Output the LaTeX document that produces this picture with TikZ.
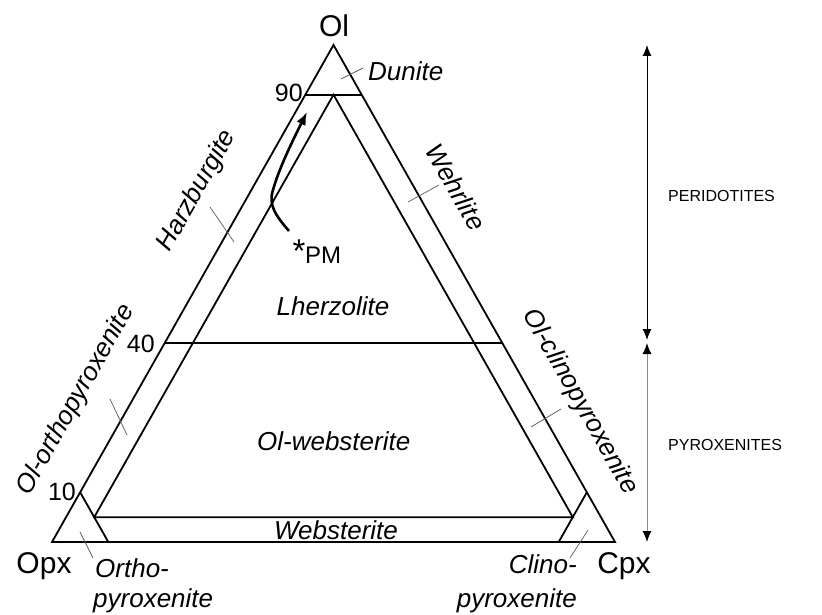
\documentclass[tikz,border=0pt]{standalone}
\usepackage{fontspec}
\setmainfont{Liberation Sans}
\usetikzlibrary{arrows.meta}
\begin{document}
\begin{tikzpicture}[x=1pt,y=-1pt,
  edge/.style={line width=1.8pt, line join=miter},
  tickline/.style={line width=0.7pt, black!65},
  lbl/.style={font=\fontsize{26}{26}\selectfont\itshape, inner sep=0pt},
  big/.style={font=\fontsize{30}{30}\selectfont, inner sep=0pt},
  num/.style={font=\fontsize{25}{25}\selectfont, inner sep=0pt},
  grp/.style={font=\fontsize{16}{16}\selectfont, inner sep=0pt, anchor=west},
  rangearrow/.style={line width=1pt, {Latex[length=11pt,width=9pt,color=black]}-{Latex[length=11pt,width=9pt,color=black]}},
  pmarrow/.style={line width=2.6pt, -{Latex[length=13pt,width=10pt]}}
]
\useasboundingbox (0,0) rectangle (822,615);
% vertices
\coordinate (opx) at (52,542);
\coordinate (cpx) at (615,542);
\coordinate (ol) at (333.5,45);
% outer triangle
\draw[edge] (opx) -- (cpx) -- (ol) -- cycle;
% Ol = 90 and Ol = 40
\draw[edge] (barycentric cs:opx=0.1,cpx=0,ol=0.9) -- (barycentric cs:opx=0,cpx=0.1,ol=0.9);
\draw[edge] (barycentric cs:opx=0.6,cpx=0,ol=0.4) -- (barycentric cs:opx=0,cpx=0.6,ol=0.4);
% inner triangle (5 %)
\draw[edge] (barycentric cs:opx=0.05,cpx=0.05,ol=0.9) -- (barycentric cs:opx=0.9,cpx=0.05,ol=0.05)
  -- (barycentric cs:opx=0.05,cpx=0.9,ol=0.05) -- cycle;
% corner lines (90 %)
\draw[edge] (barycentric cs:opx=0.9,cpx=0,ol=0.1) -- (barycentric cs:opx=0.9,cpx=0.1,ol=0);
\draw[edge] (barycentric cs:opx=0,cpx=0.9,ol=0.1) -- (barycentric cs:opx=0.1,cpx=0.9,ol=0);
% ticks
\draw[tickline] (341,79) -- (363,68);
\draw[tickline] (210,207) -- (234,242);
\draw[tickline] (408,202) -- (439,185);
\draw[tickline] (110,399) -- (127,435);
\draw[tickline] (531,427) -- (561,409);
\draw[tickline] (80,532) -- (93,558);
\draw[tickline] (588,530) -- (570,558);
% PM trend
\coordinate (pmstart) at (289,231);
\coordinate (pmend) at (307,112);
\draw[pmarrow] (pmstart) .. controls (276,216) and (268,205) .. (273,190) .. controls (279,168) and (294,138) .. (pmend);
\node[font=\fontsize{33}{33}\selectfont, inner sep=0pt, anchor=base] (star) at (299,262.5) {*};
\node[font=\fontsize{24}{24}\selectfont, inner sep=0pt, anchor=base west] (pm) at (305,263) {PM};
% vertex labels
\node[big] (lol) at (334,25.5) {Ol};
\node[big, anchor=base] (lopx) at (44,573) {Opx};
\node[big, anchor=base] (lcpx) at (624,573) {Cpx};
% numbers
\node[num, anchor=east] (n90) at (303,93) {90};
\node[num, anchor=east] (n40) at (155,344) {40};
\node[num] (n10) at (62,491.7) {10};
% field labels
\node[lbl, anchor=west] (dun) at (368,71.7) {Dunite};
\node[lbl, rotate=60.5] (harz) at (197,191) {Harzburgite};
\node[lbl, rotate=-60.5] (wehr) at (456,187) {Wehrlite};
\node[lbl] (lherz) at (333,306) {Lherzolite};
\node[lbl, rotate=60.5] (olopx) at (76,400) {Ol-orthopyroxenite};
\node[lbl, rotate=-60.5] (olcpx) at (580,402) {Ol-clinopyroxenite};
\node[lbl] (olweb) at (333.7,441.7) {Ol-websterite};
\node[lbl] (web) at (336,530) {Websterite};
\node[lbl, anchor=base west] (ortho1) at (95,577) {Ortho-};
\node[lbl, anchor=base west] (ortho2) at (93,607) {pyroxenite};
\node[lbl, anchor=base east] (clino1) at (577,573) {Clino-};
\node[lbl, anchor=base east] (clino2) at (577,607) {pyroxenite};
% right-hand ranges
\coordinate (rtop) at (647,45);
\coordinate (rmid1) at (647,340);
\coordinate (rmid2) at (647,343);
\coordinate (rbot) at (647,542);
\draw[rangearrow] (rtop) -- (rmid1);
\draw[rangearrow, draw=black!45] (rmid2) -- (rbot);
\node[grp] (peri) at (668,196) {PERIDOTITES};
\node[grp] (pyro) at (668,445) {PYROXENITES};
\end{tikzpicture}
\end{document}
